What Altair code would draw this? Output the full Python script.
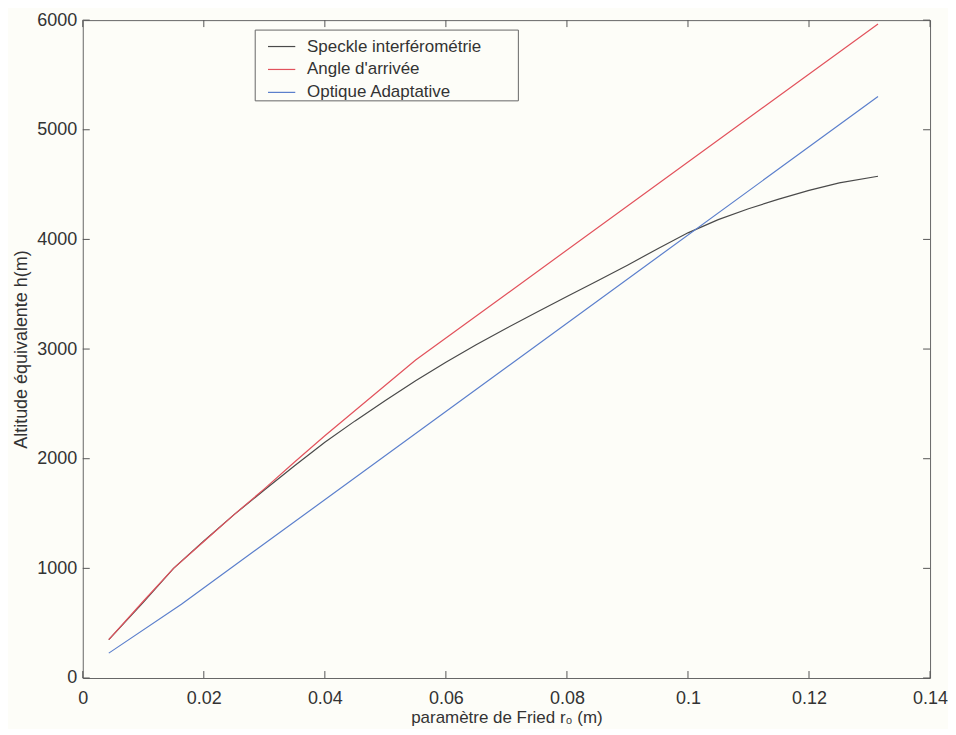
import altair as alt
import pandas as pd

# ---- data ----
series_names = ["Speckle interférométrie", "Angle d'arrivée", "Optique Adaptative"]
series_colors = ["#4a4a4a", "#e2525c", "#5b7fcc"]

speckle_x = [0.0043, 0.010, 0.015, 0.020, 0.025, 0.030, 0.035, 0.040, 0.045, 0.050,
             0.055, 0.060, 0.065, 0.070, 0.075, 0.080, 0.085, 0.090, 0.095, 0.100,
             0.105, 0.110, 0.115, 0.120, 0.125, 0.1314]
speckle_y = [350, 690, 1000, 1250, 1490, 1715, 1935, 2150, 2345, 2530,
             2710, 2880, 3040, 3190, 3335, 3480, 3620, 3765, 3915, 4060,
             4180, 4280, 4368, 4447, 4515, 4576]

angle_x = [0.0043, 0.010, 0.015, 0.020, 0.025, 0.030, 0.035, 0.040, 0.045, 0.050, 0.055, 0.1314]
angle_y = [350, 700, 1000, 1245, 1490, 1725, 1970, 2210, 2440, 2670, 2900, 5965]

optique_x = [0.0043, 0.0163, 0.1314]
optique_y = [227, 673, 5303]

x_ticks = [0, 0.02, 0.04, 0.06, 0.08, 0.1, 0.12, 0.14]
y_ticks = [0, 1000, 2000, 3000, 4000, 5000, 6000]

rows = []
for name, xs, ys in zip(series_names, [speckle_x, angle_x, optique_x], [speckle_y, angle_y, optique_y]):
    for i, (xv, yv) in enumerate(zip(xs, ys)):
        rows.append({"serie": name, "r0": xv, "h": yv, "ordre": i})
df = pd.DataFrame(rows)
xt_df = pd.DataFrame({"r0": x_ticks})
yt_df = pd.DataFrame({"h": y_ticks})

W, H = 850, 660
TICK = 7
FONT = "Liberation Sans"
AXC = "#555555"
TXT = "#333333"
BG = "#fdfdf8"

xscale = alt.Scale(domain=[0, 0.14], nice=False, zero=False)
yscale = alt.Scale(domain=[0, 6000], nice=False)

color = alt.Color(
    "serie:N",
    scale=alt.Scale(domain=series_names, range=series_colors),
    legend=alt.Legend(
        title=None, orient="none", legendX=185, legendY=12,
        direction="vertical",
        symbolType="stroke", symbolSize=750, symbolStrokeWidth=1.2,
        labelFont=FONT, labelFontSize=17, labelColor=TXT, labelLimit=400,
        labelOffset=11, rowPadding=0,
        padding=0,
    ),
)

# legend frame
legend_box = alt.Chart(pd.DataFrame({"k": [0]})).mark_rect(
    fill=BG, stroke="#666666", strokeWidth=1
).encode(x=alt.value(173), x2=alt.value(437), y=alt.value(10), y2=alt.value(81))

main = alt.Chart(df).mark_line(strokeWidth=1.2).encode(
    x=alt.X("r0:Q", scale=xscale,
            axis=alt.Axis(orient="bottom", values=x_ticks, format="~g", ticks=False, tickSize=0,
                          domain=False, grid=False, labelFont=FONT, labelFontSize=18,
                          labelColor=TXT, labelPadding=12, labelFlush=False,
                          title="paramètre de Fried r₀ (m)", titleFont=FONT, titleFontSize=17,
                          titleFontWeight="normal", titleColor=TXT,
                          titleX=W / 2, titleY=40, titleBaseline="middle", titleAnchor="middle")),
    y=alt.Y("h:Q", scale=yscale,
            axis=alt.Axis(orient="left", values=y_ticks, format="d", ticks=False, tickSize=0,
                          domain=False, grid=False, labelFont=FONT, labelFontSize=18,
                          labelColor=TXT, labelPadding=6, labelFlush=False,
                          title="Altitude équivalente h(m)", titleFont=FONT, titleFontSize=18,
                          titleFontWeight="normal", titleColor=TXT,
                          titleX=-61, titleY=H / 2, titleAngle=270, titleBaseline="middle",
                          titleAlign="center")),
    color=color,
    order="ordre:Q",
)

# inward ticks on all four sides (MATLAB style)
tick_bottom = alt.Chart(xt_df).mark_rule(color=AXC, strokeWidth=1).encode(
    x=alt.X("r0:Q", scale=xscale), y=alt.value(H), y2=alt.value(H - TICK))
tick_top = alt.Chart(xt_df).mark_rule(color=AXC, strokeWidth=1).encode(
    x=alt.X("r0:Q", scale=xscale), y=alt.value(0), y2=alt.value(TICK))
tick_left = alt.Chart(yt_df).mark_rule(color=AXC, strokeWidth=1).encode(
    y=alt.Y("h:Q", scale=yscale), x=alt.value(0), x2=alt.value(TICK))
tick_right = alt.Chart(yt_df).mark_rule(color=AXC, strokeWidth=1).encode(
    y=alt.Y("h:Q", scale=yscale), x=alt.value(W), x2=alt.value(W - TICK))

chart = alt.layer(legend_box, main, tick_bottom, tick_top, tick_left, tick_right).properties(
    width=W, height=H,
    autosize=alt.AutoSizeParams(type="none"),
    padding={"left": 75, "top": 11, "right": 18, "bottom": 50},
    background=BG,
).configure_view(
    stroke="#666666", strokeWidth=1, fill=BG,
)

chart.save("out.html", embed_options={"renderer": "svg", "actions": False})
